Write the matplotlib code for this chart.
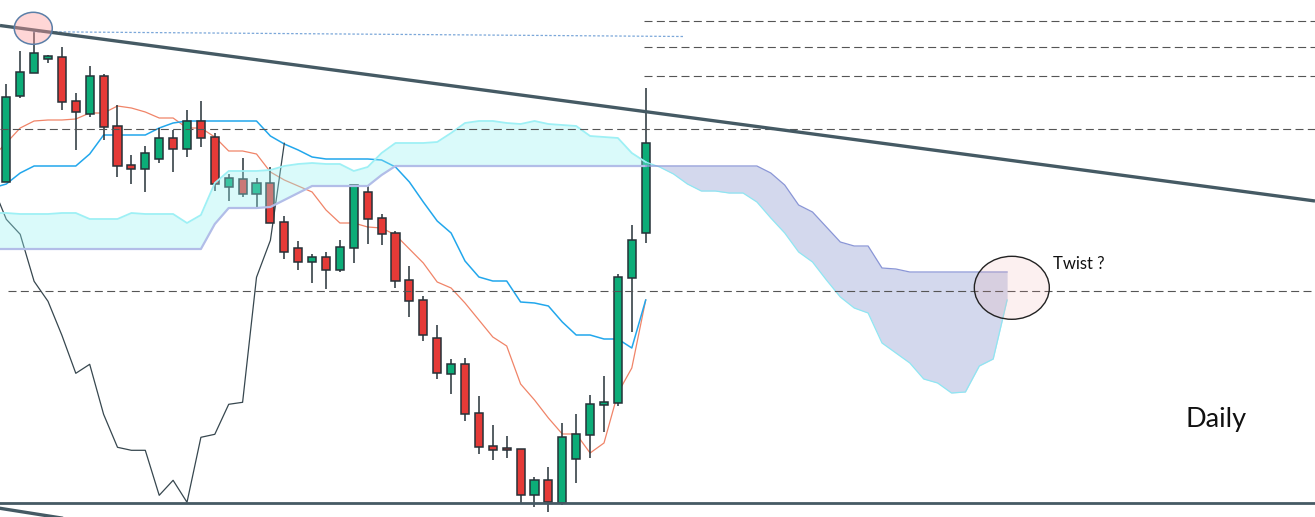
import numpy as np
import matplotlib
matplotlib.use("Agg")
import matplotlib.pyplot as plt
from matplotlib.patches import Ellipse

# candle data (screen units, y grows downward)
opens = [181.7, 95.7, 73.3, 59.3, 56.7, 101.3, 114.3, 76.3, 126.3, 165.3,
         169.3, 159.3, 138.3, 149.3, 121.3, 137.3, 186.7, 179.3, 194.3, 183.3,
         222.3, 248.3, 262.3, 257.3, 270.3, 248.3, 192.3, 218.3, 233.3, 280.3,
         300.3, 338.3, 374.3, 364.3, 413.3, 446.3, 448.3, 449.3, 495.3, 480.3,
         503.3, 459.3, 435.3, 405.3, 403.3, 278.3, 233.3]
closes = [96.7, 72.3, 53.3, 56.3, 102.3, 112.3, 76.3, 127.3, 166.3, 169.3,
          153.3, 138.3, 149.3, 121.3, 138.3, 184.3, 178.3, 194.3, 183.3, 223.3,
          252.3, 262.3, 257.3, 270.3, 247.3, 185.3, 219.3, 234.3, 281.3, 301.3,
          335.3, 373.3, 364.3, 414.3, 447.3, 450.3, 450.3, 495.3, 480.3, 502.3,
          437.3, 434.3, 404.3, 402.3, 277.3, 240.3, 143.3]
highs = [84.3, 51, 31.7, 55, 47.3, 93.3, 66, 74, 105.3, 155,
         146, 128.3, 130, 110, 101, 133.3, 174, 158, 178.3, 167.3,
         216, 241, 254.3, 252.3, 240, 185, 186.3, 214.3, 231.3, 266.3,
         296.3, 325.3, 359.3, 358.3, 396.3, 425.3, 436.3, 449.3, 477.3, 467.3,
         422.7, 414.3, 395, 376, 274, 225, 88]
lows = [182, 97.7, 73.3, 62.7, 110, 150, 116.7, 140, 176.7, 183.7,
        191.7, 162.7, 171.7, 156.7, 146.7, 190.7, 200.7, 197.3, 206.7, 223.3,
        259.3, 269.7, 282.7, 288.7, 272.3, 262.7, 243.7, 245.3, 287.7, 317.3,
        340.7, 378.7, 393.7, 420.7, 453.7, 459.7, 457.7, 503.3, 507.3, 511.7,
        505.3, 483.3, 457.7, 431.7, 405.7, 331.7, 242.7]

# ichimoku lines, starting one bar left of the first candle
tenkan = [157, 143, 128, 121, 120, 120, 119, 113, 113, 106, 108, 112, 118, 118,
          128, 128, 137, 151, 151, 154, 172, 180, 186, 192, 210, 223, 223, 227,
          228, 235, 249, 263, 282, 288, 303, 320, 337, 346, 384, 400, 418, 434,
          434, 453, 443, 393, 368, 300]
kijun = [188, 184, 173, 166, 166, 166, 166, 154, 135, 135, 135, 135, 128, 123,
         121, 121, 121, 121, 121, 121, 136, 144, 150, 157, 159, 159, 159, 159,
         160, 167, 182, 202, 221, 233, 261, 277, 281, 281, 302, 303, 306, 322,
         335, 335, 339, 339, 348, 300]
span_a = [213, 213, 214, 214, 214, 213, 213, 219, 219, 219, 213, 214, 214, 214,
          223, 215, 183, 171, 171, 171, 170, 166, 164, 163, 164, 164, 171, 167,
          153, 143, 143, 143, 142, 133, 123, 121, 121, 123, 124, 121, 124, 125,
          126, 136, 137, 138, 153, 162, 167, 174, 184, 191, 191, 193, 193, 202,
          218, 233, 252, 262, 280, 297, 308, 313, 343, 353, 363, 379, 383, 393,
          392, 366, 359, 300]
span_b = [249] * 16 + [224, 208, 208, 208, 207, 200, 193, 186, 186, 186, 186,
          186, 175] + [166] * 27 + [173, 185, 205, 212, 227, 242, 246, 246, 268,
          269, 272] + [272] * 7

# drawn levels
dashed_levels = [21, 47, 76]
full_levels = [129.3, 291]
dotted_y = [31.7, 36.5]
trend_y = [25.5, 201]
support_y = 503

n = len(opens)
idx = np.arange(n)
o = np.array(opens)
c = np.array(closes)
up = c < o
col = np.where(up, "#0cad78", "#e53a37")

fig = plt.figure(figsize=(13.15, 5.17), dpi=100)
ax = fig.add_axes([0, 0, 1, 1])
ax.axis("off")
xmin, xmax = -6.3 / 13.9, (1315 - 6.3) / 13.9
ax.set_xlim(xmin, xmax)
ax.set_ylim(517, 0)

xl = np.arange(-1, n)
ax.plot(xl, tenkan, color="#f08468", lw=0.9, zorder=2)
ax.plot(xl, kijun, color="#22a7ec", lw=1.1, zorder=2)
# lagging span: close shifted back 26 bars
ax.plot(idx[25:] - 26, c[25:], color="#37474f", lw=0.9, zorder=2)

ax.vlines(idx, highs, lows, color="#263238", lw=1.1, zorder=3)
ax.bar(idx, np.abs(c - o), bottom=np.minimum(o, c), width=0.58, color=col,
       edgecolor="#263238", linewidth=1.1, zorder=4)

xs = np.arange(-1, len(span_a) - 1)
a = np.array(span_a, dtype=float)
b = np.array(span_b, dtype=float)
ax.fill_between(xs, a, b, where=a <= b, interpolate=True,
                color=(149 / 255, 241 / 255, 241 / 255), alpha=0.35, lw=0, zorder=5)
ax.fill_between(xs, a, b, where=a >= b, interpolate=True,
                color=(129 / 255, 144 / 255, 206 / 255), alpha=0.35, lw=0, zorder=5)
k = 48
ax.plot(xs[:k], a[:k], color="#9ef0f5", lw=1.3, zorder=6)
ax.plot(xs[k - 1:], a[k - 1:], color="#8fe6f2", lw=0.9, zorder=6)
ax.plot(xs[:k], b[:k], color="#b2bde8", lw=1.6, zorder=6)
ax.plot(xs[k - 1:], b[k - 1:], color="#8a96d6", lw=0.9, zorder=6)

x_right = (644 - 6.3) / 13.9
for lv in dashed_levels:
    ax.plot([x_right, xmax], [lv, lv], color="#555555", lw=0.8,
            dashes=(7.2, 3.9), zorder=7)
ax.plot([xmin, xmax], [full_levels[0]] * 2, color="#555555", lw=0.8,
        dashes=(7.2, 3.9), zorder=7)
ax.plot([(8 - 6.3) / 13.9, xmax], [full_levels[1]] * 2, color="#555555", lw=0.8,
        dashes=(7.2, 3.9), zorder=7)
ax.plot([(33 - 6.3) / 13.9, (683 - 6.3) / 13.9], dotted_y, color="#7ba7d9",
        lw=0.9, dashes=(2, 1.5), zorder=7)

ax.plot([xmin, xmax], trend_y, color="#455a64", lw=2.4, zorder=8,
        solid_capstyle="butt")
ax.plot([xmin, xmax], [support_y] * 2, color="#455a64", lw=2.0, zorder=8)
ax.plot([xmin, 10], [508.3, 508.3 + 0.158 * 13.9 * (10 - xmin)],
        color="#455a64", lw=2.4, zorder=8)

ax.add_patch(Ellipse((1.94, 28.3), 38 / 13.9, 32, facecolor=(1, 0.6, 0.6, 0.4),
                     edgecolor="#5b7fa8", lw=1.1, zorder=9))
ax.add_patch(Ellipse((72.34, 287.8), 75 / 13.9, 63,
                     facecolor=(0.94, 0.61, 0.61, 0.15),
                     edgecolor="#222222", lw=1.0, zorder=9))

ax.text(75.28, 269, "Twist ?", family=["Lato", "DejaVu Sans"], fontsize=12,
        color="#111111", va="baseline", ha="left", zorder=10)
ax.text(84.8, 426.7, "Daily", family=["Lato", "DejaVu Sans"], fontsize=19.5,
        color="#111111", va="baseline", ha="left", zorder=10)

fig.savefig("out.png", dpi=100)
